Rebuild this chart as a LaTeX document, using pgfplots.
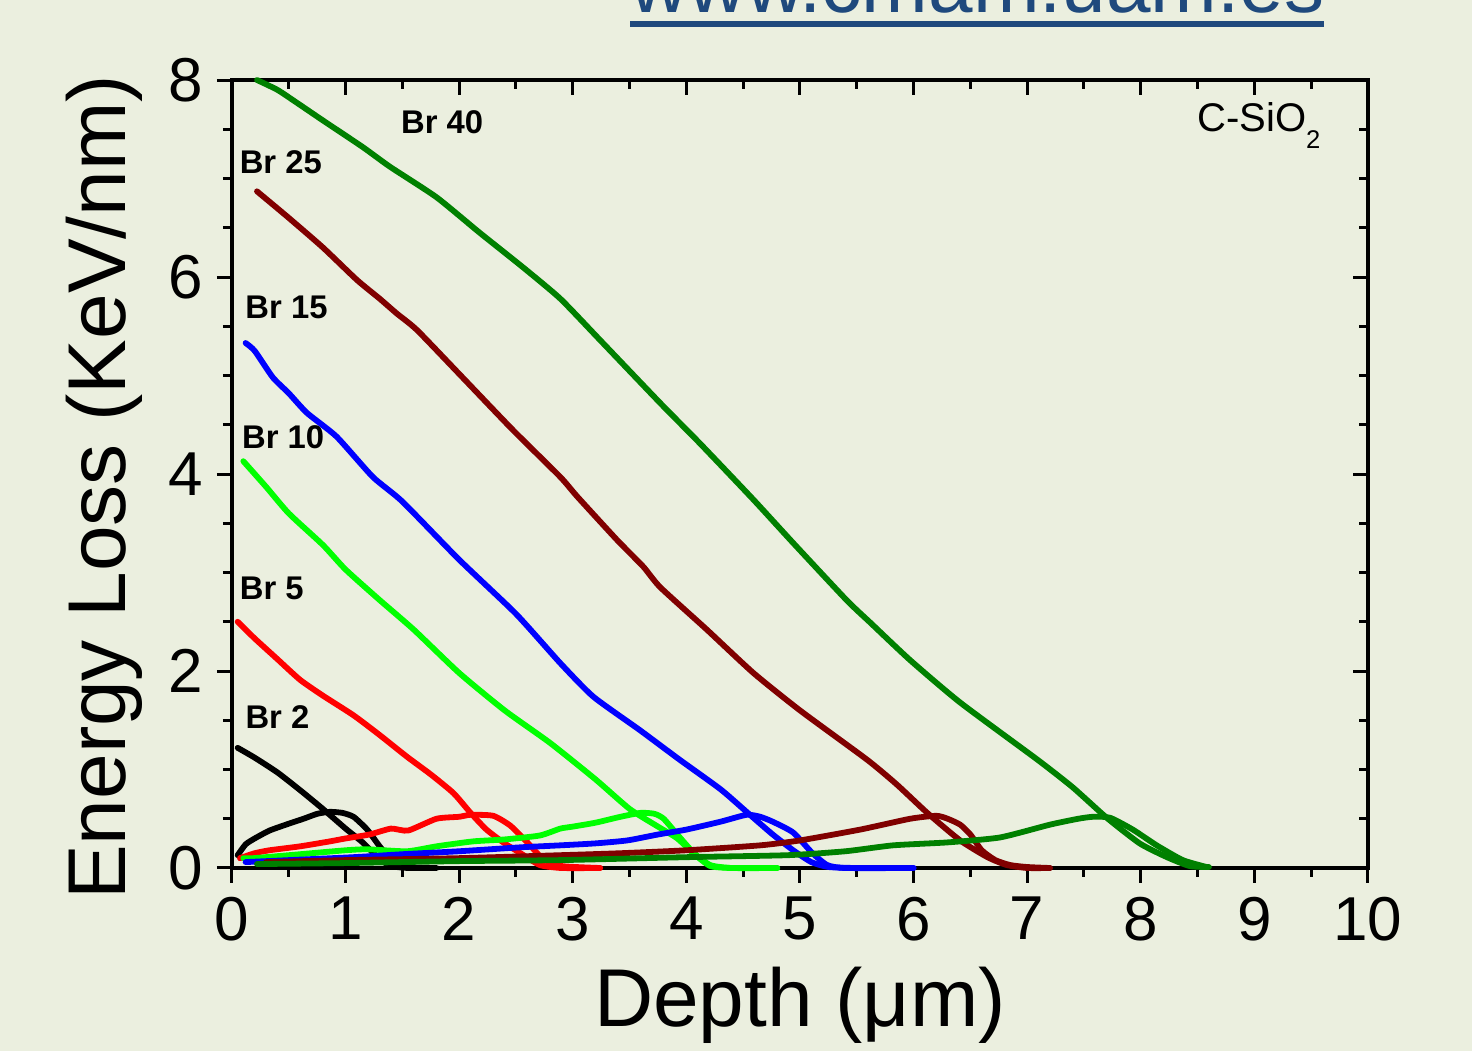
\documentclass[border=0pt]{standalone}
\usepackage{pgfplots}
\pgfplotsset{compat=1.18}
\usepackage{fontspec}
\setmainfont{Liberation Sans}
\definecolor{bg}{HTML}{EBEFDF}
\definecolor{urlblue}{HTML}{1F497D}
\definecolor{maroonc}{RGB}{128,0,0}
\definecolor{dgreen}{RGB}{0,128,0}
\definecolor{limec}{RGB}{0,255,0}
\begin{document}
\begin{tikzpicture}[x=1pt,y=1pt]
\useasboundingbox (-58,-45.75) rectangle (310,217);
\clip (-58,-45.75) rectangle (310,217);
\fill[bg] (-58,-45.75) rectangle (310,217);
\node[anchor=base west, inner sep=0pt, font=\fontsize{20}{24}\selectfont, text=urlblue] at (99.5,213.75) {www.cmam.uam.es};
\fill[urlblue] (99.5,210.25) rectangle (273,211.75);
\begin{axis}[at={(0,0)}, anchor=south west, scale only axis, width=284pt, height=197pt,
 xmin=0, xmax=10, ymin=0, ymax=8,
 xtick={0,1,...,10}, ytick={0,2,4,6,8}, minor x tick num=1, minor y tick num=3,
 tick align=outside, xtick pos=left, ytick pos=left,
 major tick length=3.75pt, minor tick length=2.25pt,
 axis line style={line width=0.9pt},
 every tick/.style={black, line width=0.75pt},
 tick label style={font=\fontsize{15.5}{18}\selectfont},
 /pgf/number format/assume math mode=true,
 xlabel={Depth (μm)}, ylabel={Energy Loss (KeV/nm)},
 label style={font=\fontsize{20.5}{24}\selectfont},
 xlabel style={at={(axis description cs:0.5,-0.174)}, anchor=center},
 ylabel style={at={(axis description cs:-0.112,0.483)}, anchor=center},
 every axis plot/.append style={line width=1.45pt, line join=round, line cap=round, smooth, tension=0.35},
 no markers, clip=false]
% Br 2
\addplot[black] coordinates {(0.05,1.22)(0.2,1.12)(0.4,0.97)(0.6,0.79)(0.8,0.6)(1.0,0.4)(1.15,0.26)(1.3,0.09)(1.4,0.02)(1.55,0.0)(1.8,0.0)};
\addplot[black] coordinates {(0.05,0.13)(0.12,0.24)(0.2,0.3)(0.33,0.38)(0.5,0.45)(0.63,0.5)(0.75,0.55)(0.86,0.57)(0.97,0.56)(1.07,0.52)(1.19,0.39)(1.3,0.22)(1.42,0.06)(1.55,0.01)(1.7,0.0)};
% Br 5
\addplot[red] coordinates {(0.05,2.5)(0.2,2.33)(0.4,2.12)(0.6,1.91)(0.8,1.75)(1.07,1.55)(1.3,1.35)(1.54,1.13)(1.75,0.95)(1.95,0.76)(2.1,0.56)(2.24,0.39)(2.4,0.25)(2.54,0.15)(2.71,0.03)(2.9,0.0)(3.24,0.0)};
\addplot[red] coordinates {(0.07,0.1)(0.2,0.15)(0.33,0.18)(0.6,0.22)(0.86,0.27)(1.0,0.3)(1.21,0.34)(1.4,0.4)(1.55,0.38)(1.8,0.5)(2.0,0.52)(2.1,0.54)(2.3,0.53)(2.45,0.43)(2.6,0.26)(2.74,0.09)(2.9,0.02)(3.24,0.0)};
% Br 10
\addplot[limec] coordinates {(0.1,4.13)(0.3,3.87)(0.5,3.6)(0.8,3.28)(1.0,3.03)(1.3,2.72)(1.6,2.42)(2.0,1.98)(2.4,1.6)(2.8,1.27)(3.2,0.9)(3.5,0.6)(3.75,0.42)(3.92,0.3)(4.06,0.15)(4.21,0.02)(4.4,0.0)(4.8,0.0)};
\addplot[limec] coordinates {(0.1,0.1)(0.19,0.1)(0.6,0.14)(1.0,0.18)(1.19,0.19)(1.54,0.17)(1.8,0.22)(2.12,0.27)(2.4,0.29)(2.71,0.33)(2.89,0.4)(3.0,0.42)(3.2,0.46)(3.42,0.52)(3.6,0.56)(3.72,0.55)(3.8,0.5)(3.92,0.34)(4.06,0.16)(4.21,0.03)(4.4,0.0)(4.8,0.0)};
% Br 15
\addplot[blue] coordinates {(0.12,5.33)(0.2,5.25)(0.36,4.98)(0.5,4.82)(0.66,4.62)(0.92,4.38)(1.24,3.97)(1.5,3.72)(2.0,3.13)(2.5,2.58)(2.89,2.08)(3.18,1.74)(3.59,1.40)(3.94,1.10)(4.3,0.8)(4.53,0.57)(4.75,0.35)(4.94,0.18)(5.1,0.06)(5.25,0.01)(5.5,0.0)(6.0,0.0)};
\addplot[blue] coordinates {(0.12,0.06)(0.5,0.08)(1.07,0.11)(1.5,0.14)(2.0,0.17)(2.54,0.21)(2.89,0.23)(3.2,0.25)(3.48,0.28)(3.75,0.34)(4.0,0.39)(4.3,0.47)(4.53,0.54)(4.65,0.52)(4.76,0.47)(4.94,0.36)(5.11,0.15)(5.24,0.03)(5.4,0.0)(6.0,0.0)};
% Br 25
\addplot[maroonc] coordinates {(0.22,6.87)(0.5,6.6)(0.8,6.3)(1.1,5.97)(1.3,5.78)(1.45,5.63)(1.63,5.46)(2.03,4.98)(2.47,4.45)(2.89,3.97)(3.04,3.77)(3.39,3.33)(3.62,3.06)(3.77,2.85)(4.18,2.42)(4.59,1.98)(5.0,1.60)(5.59,1.10)(5.85,0.85)(6.12,0.56)(6.41,0.28)(6.65,0.11)(6.82,0.03)(7.0,0.0)(7.2,0.0)};
\addplot[maroonc] coordinates {(0.3,0.06)(1.0,0.08)(2.0,0.1)(2.89,0.13)(3.42,0.15)(4.0,0.18)(4.65,0.23)(5.0,0.28)(5.53,0.39)(5.97,0.5)(6.2,0.53)(6.3,0.5)(6.41,0.44)(6.5,0.34)(6.6,0.18)(6.72,0.08)(6.85,0.03)(7.0,0.01)(7.2,0.0)};
% Br 40
\addplot[dgreen] coordinates {(0.22,8.0)(0.4,7.9)(0.57,7.77)(0.8,7.59)(1.15,7.32)(1.39,7.12)(1.8,6.81)(2.18,6.45)(2.56,6.1)(2.89,5.78)(3.24,5.36)(3.77,4.72)(4.12,4.31)(4.59,3.74)(4.94,3.30)(5.41,2.72)(5.62,2.49)(5.97,2.11)(6.41,1.68)(7.09,1.10)(7.4,0.82)(7.7,0.51)(7.99,0.25)(8.23,0.11)(8.43,0.02)(8.6,0.01)};
\addplot[dgreen] coordinates {(0.22,0.04)(1.0,0.05)(2.0,0.07)(2.89,0.08)(4.0,0.11)(4.89,0.13)(5.4,0.17)(5.82,0.23)(6.3,0.26)(6.76,0.31)(7.2,0.44)(7.45,0.5)(7.58,0.52)(7.73,0.51)(7.93,0.39)(8.14,0.23)(8.37,0.08)(8.58,0.01)};
% labels
\node[font=\bfseries\fontsize{8.2}{10}\selectfont] at (axis cs:1.85,7.57) {Br 40};
\node[font=\bfseries\fontsize{8.2}{10}\selectfont] at (axis cs:0.43,7.17) {Br 25};
\node[font=\bfseries\fontsize{8.2}{10}\selectfont] at (axis cs:0.48,5.69) {Br 15};
\node[font=\bfseries\fontsize{8.2}{10}\selectfont] at (axis cs:0.45,4.37) {Br 10};
\node[font=\bfseries\fontsize{8.2}{10}\selectfont] at (axis cs:0.35,2.84) {Br 5};
\node[font=\bfseries\fontsize{8.2}{10}\selectfont] at (axis cs:0.40,1.53) {Br 2};
\node[font=\fontsize{10}{12}\selectfont, anchor=base west, inner sep=0pt] at (axis cs:8.49,7.48) {C-SiO\raisebox{-4.3pt}{\fontsize{6.4}{8}\selectfont 2}};
\end{axis}
\begin{axis}[at={(0,0)}, anchor=south west, scale only axis, width=284pt, height=197pt,
 xmin=0, xmax=10, ymin=0, ymax=8,
 xtick={0,1,...,10}, ytick={0,2,4,6,8}, minor x tick num=1, minor y tick num=3,
 tick align=inside, xtick pos=right, ytick pos=right,
 major tick length=3.75pt, minor tick length=2.25pt,
 axis line style={draw=none},
 every tick/.style={black, line width=0.75pt},
 xticklabels={}, yticklabels={}]
\end{axis}
\end{tikzpicture}
\end{document}
